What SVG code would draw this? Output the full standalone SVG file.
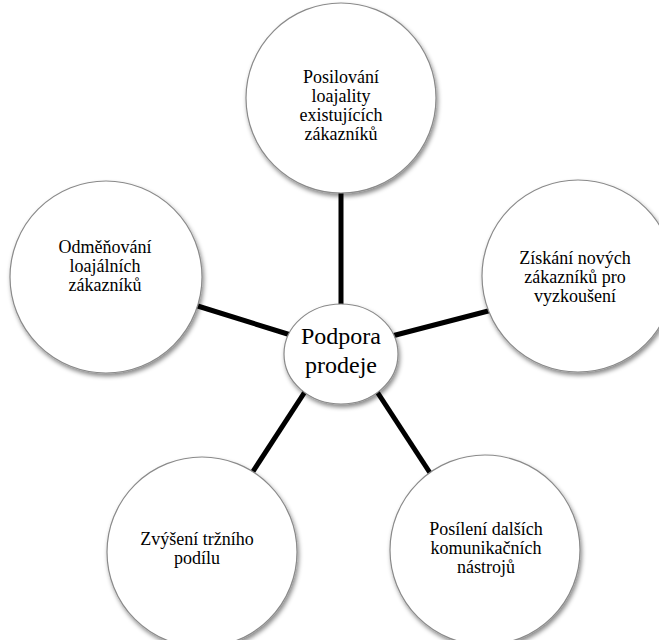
<svg xmlns="http://www.w3.org/2000/svg" width="659" height="640" viewBox="0 0 659 640">
<defs>
<filter id="sh" x="-10%" y="-10%" width="125%" height="125%">
<feDropShadow dx="1.5" dy="3" stdDeviation="2" flood-color="#000" flood-opacity="0.45"/>
</filter>
<style>
.c{fill:#fff;stroke:#8a8a8a;stroke-width:1.2;filter:url(#sh)}
text{font-family:'Liberation Serif','Times New Roman',serif;fill:#000;text-anchor:middle}
.t{font-size:18px}
.tc{font-size:24px}
.l{stroke:#000;stroke-width:5;fill:none}
</style>
</defs>
<rect width="659" height="640" fill="#fff"/>
<g id="connectors">
<line class="l" x1="341" y1="185" x2="341" y2="315"/>
<line class="l" x1="388" y1="337" x2="492" y2="310"/>
<line class="l" x1="188" y1="303" x2="294" y2="336"/>
<line class="l" x1="310" y1="384" x2="248" y2="479"/>
<line class="l" x1="372" y1="384" x2="434" y2="479"/>
</g>
<g id="n-top">
<circle class="c" cx="341" cy="98" r="95"/>
<text class="t" x="341" y="83">Posilování</text>
<text class="t" x="341" y="102">loajality</text>
<text class="t" x="341" y="121">existujících</text>
<text class="t" x="341" y="140">zákazníků</text>
</g>
<g id="n-right">
<circle class="c" cx="578" cy="276" r="96"/>
<text class="t" x="575" y="264">Získání nových</text>
<text class="t" x="575" y="283">zákazníků pro</text>
<text class="t" x="575" y="302">vyzkoušení</text>
</g>
<g id="n-left">
<circle class="c" cx="106" cy="277" r="96"/>
<text class="t" x="105" y="253">Odměňování</text>
<text class="t" x="105" y="272">loajálních</text>
<text class="t" x="105" y="291">zákazníků</text>
</g>
<g id="n-bottomright">
<circle class="c" cx="485" cy="550" r="95"/>
<text class="t" x="486" y="535">Posílení dalších</text>
<text class="t" x="486" y="554">komunikačních</text>
<text class="t" x="486" y="573">nástrojů</text>
</g>
<g id="n-bottomleft">
<circle class="c" cx="202" cy="552" r="95"/>
<text class="t" x="197" y="545">Zvýšení tržního</text>
<text class="t" x="197" y="564">podílu</text>
</g>
<g id="n-center">
<ellipse class="c" cx="341" cy="354" rx="57" ry="50"/>
<text class="tc" x="341" y="344">Podpora</text>
<text class="tc" x="341" y="373">prodeje</text>
</g>
</svg>
